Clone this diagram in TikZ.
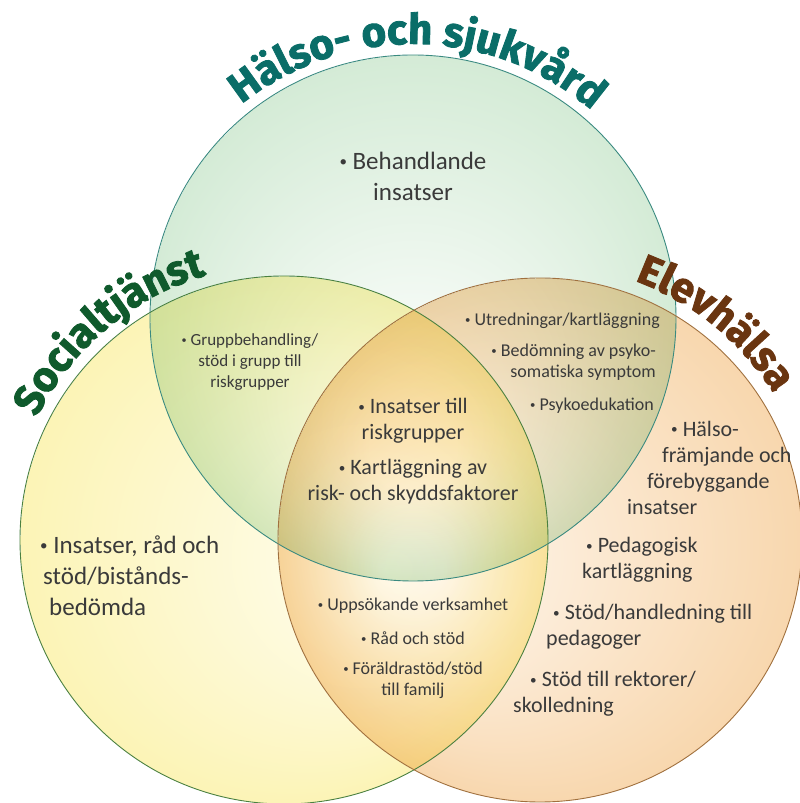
\documentclass[tikz,border=0pt]{standalone}
\usepackage{fontspec}
\usetikzlibrary{decorations.text}
\setmainfont{Carlito}
\newfontfamily\titlefont{Fira Sans}[BoldFeatures={FakeBold=2}]

\definecolor{hsteal}{HTML}{0A6D68}
\definecolor{socgreen}{HTML}{0F5A2C}
\definecolor{elevbrown}{HTML}{6A3510}
\definecolor{textgray}{HTML}{3A3A3A}
\definecolor{hsline}{HTML}{3A8A80}
\definecolor{socline}{HTML}{4A8040}
\definecolor{elevline}{HTML}{A0703E}
\definecolor{hsinner}{HTML}{FFFFFF}
\definecolor{hsouter}{HTML}{D4EBD6}
\definecolor{socinner}{HTML}{FFFFFA}
\definecolor{socouter}{HTML}{FCF4B6}
\definecolor{elevinner}{HTML}{FFFBF6}
\definecolor{elevouter}{HTML}{F8D7AE}

\pgfdeclareradialshading{hsshade}{\pgfpoint{0bp}{-15bp}}{color(0bp)=(hsinner); color(4bp)=(hsinner); color(25bp)=(hsouter)}
\pgfdeclareradialshading{socshade}{\pgfpoint{15bp}{-3bp}}{color(0bp)=(socinner); color(25bp)=(socouter)}
\pgfdeclareradialshading{elevshade}{\pgfpoint{-15bp}{-3bp}}{color(0bp)=(elevinner); color(25bp)=(elevouter)}

\newcommand\titlesize{\titlefont\bfseries\fontsize{42}{42}\selectfont}
\newcommand\hstitle{\titlesize\color{hsteal}}
\newcommand\soctitle{\titlesize\color{socgreen}}
\newcommand\elevtitle{\titlesize\color{elevbrown}}
\newcommand\bul{\raisebox{.12em}{\scalebox{.6}{•}}\ }

\tikzset{
  bigtxt/.style={font=\fontsize{25}{31}\selectfont, text=textgray, inner sep=0pt},
  midtxt/.style={font=\fontsize{22}{26}\selectfont, text=textgray, inner sep=0pt},
  smalltxt/.style={font=\fontsize{17}{21}\selectfont, text=textgray, inner sep=0pt},
  tinytxt/.style={font=\fontsize{18}{21}\selectfont, text=textgray, inner sep=0pt},
  ring/.style={line width=0.9pt}
}

\begin{document}
\begin{tikzpicture}[x=1pt,y=1pt]
    \useasboundingbox (0,0) rectangle (800,803);
    \coordinate (hs) at (413,485);
    \coordinate (soc) at (284,263);
    \coordinate (elev) at (540,263);
    % circles
    \shade[shading=hsshade, blend mode=multiply] (hs) circle (263);
    \shade[shading=socshade, blend mode=multiply] (soc) circle (264);
    \shade[shading=elevshade, blend mode=multiply] (elev) circle (262);
    \draw[ring, draw=hsline] (hs) circle (263);
    \draw[ring, draw=socline] (soc) circle (264);
    \draw[ring, draw=elevline] (elev) circle (262);
    % titles
    \path[decorate, decoration={text along path, text align=center,
        text={|\hstitle|Hälso- och sjukvård}}]
        (hs) ++(160:274) arc[start angle=160, end angle=18, radius=274];
    \path[decorate, decoration={text along path, text align=center,
        text={|\soctitle|Socialtjänst}}]
        (soc) ++(172:276) arc[start angle=172, end angle=88, radius=276];
    \path[decorate, decoration={text along path, text align=center,
        text={|\elevtitle|Elevhälsa}}]
        (elev) ++(96:276) arc[start angle=96, end angle=6, radius=276];
    % Hälso- och sjukvård
    \node[bigtxt, align=center] (beh) at (413,627) {\bul Behandlande\\insatser};
    % overlaps
    \node[smalltxt, align=center] (grupp) at (250,441) {\bul Gruppbehandling/\\stöd i grupp till\\riskgrupper};
    \node[tinytxt, anchor=east] (utr) at (660,482) {\bul Utredningar/kartläggning};
    \node[tinytxt, anchor=east, align=right] (bed) at (656,441) {\bul Bedömning av psyko-\\somatiska symptom};
    \node[tinytxt, anchor=east] (psy) at (654,397) {\bul Psykoedukation};
    \node[midtxt, align=center] (risk) at (413,382) {\bul Insatser till\\riskgrupper};
    \node[midtxt, align=center] (kart) at (413,321) {\bul Kartläggning av\\risk- och skyddsfaktorer};
    \node[tinytxt] (upps) at (413,197) {\bul Uppsökande verksamhet};
    \node[tinytxt] (rad) at (413,165) {\bul Råd och stöd};
    \node[tinytxt, align=center] (foral) at (413,123) {\bul Föräldrastöd/stöd\\till familj};
    % Socialtjänst
    \node[bigtxt, align=left, anchor=west] (bist) at (40,227) {\bul Insatser, råd och\\\hspace*{3pt}stöd/bistånds-\\\hspace*{9pt}bedömda};
    % Elevhälsa
    \node[midtxt, align=left, anchor=west] (halso) at (627,335) {\hspace*{44pt}\bul Hälso-\\\hspace*{35pt}främjande och\\\hspace*{20pt}förebyggande\\insatser};
    \node[midtxt, align=left, anchor=west] (ped) at (582,243) {\hspace*{4pt}\bul Pedagogisk\\kartläggning};
    \node[midtxt, align=left, anchor=west] (handl) at (546,176) {\hspace*{7pt}\bul Stöd/handledning till\\pedagoger};
    \node[midtxt, align=left, anchor=west] (rekt) at (513,109) {\hspace*{17pt}\bul Stöd till rektorer/\\skolledning};
\end{tikzpicture}
\end{document}
